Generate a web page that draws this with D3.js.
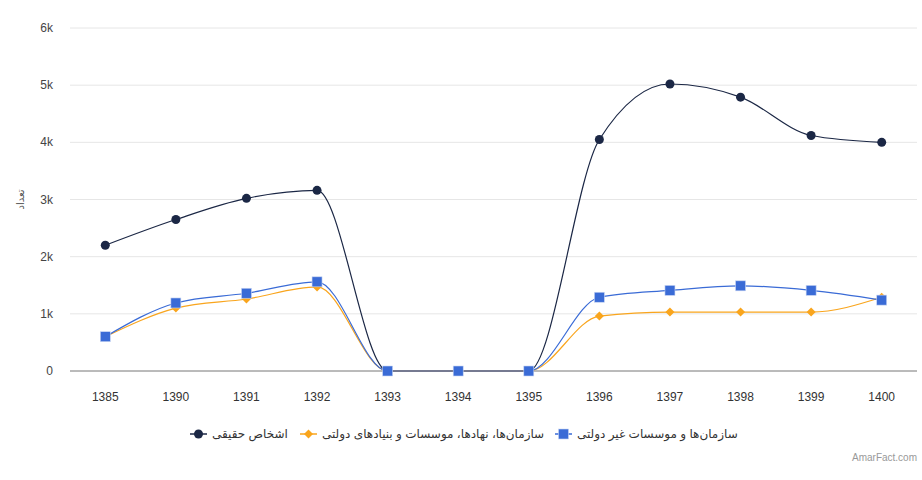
<!DOCTYPE html>
<html>
<head>
<meta charset="utf-8">
<script src="https://cdn.jsdelivr.net/npm/d3@7"></script>
<style>
  body { margin: 0; background: #fff; }
  svg { font-family: "Liberation Sans", Arial, "DejaVu Sans", sans-serif; }
</style>
</head>
<body>
<div id="chart"></div>
<script>
const years = ['1385', '1390', '1391', '1392', '1393', '1394', '1395', '1396', '1397', '1398', '1399', '1400'];
const persons = [2200, 2650, 3020, 3160, 0, 0, 0, 4050, 5020, 4790, 4120, 4000];
const govOrgs = [600, 1100, 1260, 1470, 0, 0, 0, 960, 1030, 1030, 1030, 1290];
const nonGovOrgs = [600, 1190, 1360, 1560, 0, 0, 0, 1290, 1410, 1490, 1410, 1240];
const yTicks = [0, 1000, 2000, 3000, 4000, 5000, 6000];

const series = [
  { name: 'اشخاص حقیقی', values: persons, color: '#1b2745', marker: 'circle' },
  { name: 'سازمان‌ها، نهادها، موسسات و بنیادهای دولتی', values: govOrgs, color: '#f9a51d', marker: 'diamond' },
  { name: 'سازمان‌ها و موسسات غیر دولتی', values: nonGovOrgs, color: '#3a6bd6', marker: 'square' },
];

const width = 922, height = 480;
const margin = { top: 28, right: 5, bottom: 109, left: 70 };

const svg = d3.select('#chart').append('svg').attr('width', width).attr('height', height);

const x = d3.scaleBand().domain(years).range([margin.left, width - margin.right]);
const y = d3.scaleLinear().domain([0, 6000]).range([height - margin.bottom, margin.top]);
const cx = (i) => x(years[i]) + x.bandwidth() / 2;

// grid
svg.append('g')
  .selectAll('line')
  .data(yTicks.filter((t) => t > 0))
  .join('line')
  .attr('x1', margin.left).attr('x2', width - margin.right)
  .attr('y1', (d) => y(d)).attr('y2', (d) => y(d))
  .attr('stroke', '#e6e6e6').attr('stroke-width', 1);

// y axis labels
svg.append('g')
  .selectAll('text')
  .data(yTicks)
  .join('text')
  .attr('x', 53).attr('y', (d) => y(d) + 4)
  .attr('text-anchor', 'end')
  .attr('font-size', 12).attr('fill', '#444')
  .text((d) => (d === 0 ? '0' : d / 1000 + 'k'));

svg.append('text')
  .attr('transform', `translate(24,${y(3000)}) rotate(-90)`)
  .attr('text-anchor', 'middle')
  .attr('font-size', 10).attr('fill', '#555')
  .text('تعداد');

// x axis
svg.append('line')
  .attr('x1', margin.left).attr('x2', width - margin.right)
  .attr('y1', y(0)).attr('y2', y(0))
  .attr('stroke', '#777').attr('stroke-width', 1);

svg.append('g')
  .selectAll('text')
  .data(years)
  .join('text')
  .attr('x', (d) => x(d) + x.bandwidth() / 2).attr('y', 401)
  .attr('text-anchor', 'middle')
  .attr('font-size', 12).attr('fill', '#333')
  .text((d) => d);

const line = d3.line().x((d, i) => cx(i)).y((d) => y(d)).curve(d3.curveMonotoneX);

function drawMarker(g, type, color, px, py) {
  if (type === 'circle') {
    g.append('circle').attr('cx', px).attr('cy', py).attr('r', 4.5).attr('fill', color);
  } else if (type === 'diamond') {
    g.append('path')
      .attr('d', `M${px},${py - 4.5}L${px + 4.5},${py}L${px},${py + 4.5}L${px - 4.5},${py}Z`)
      .attr('fill', color);
  } else {
    g.append('rect').attr('x', px - 5).attr('y', py - 5).attr('width', 10).attr('height', 10)
      .attr('fill', color).attr('stroke', '#c9d6f3').attr('stroke-width', 0.6);
  }
}

series.forEach((s) => {
  const g = svg.append('g');
  g.append('path')
    .attr('d', line(s.values))
    .attr('fill', 'none').attr('stroke', s.color).attr('stroke-width', 1.2);
  s.values.forEach((v, i) => drawMarker(g, s.marker, s.color, cx(i), y(v)));
});

// legend
const legend = svg.append('g');
const legendStarts = [190, 300, 555];
series.forEach((s, i) => {
  const lx = legendStarts[i], ly = 434;
  legend.append('line')
    .attr('x1', lx).attr('x2', lx + 17).attr('y1', ly).attr('y2', ly)
    .attr('stroke', s.color).attr('stroke-width', 1.5);
  drawMarker(legend, s.marker, s.color, lx + 8.5, ly);
  legend.append('text')
    .attr('x', lx + 22).attr('y', ly + 4)
    .attr('font-size', 12).attr('fill', '#333')
    .attr('direction', 'rtl').attr('text-anchor', 'end')
    .text(s.name);
});

svg.append('text')
  .attr('x', 917).attr('y', 461)
  .attr('text-anchor', 'end')
  .attr('font-size', 10).attr('fill', '#999')
  .text('AmarFact.com');
</script>
</body>
</html>
